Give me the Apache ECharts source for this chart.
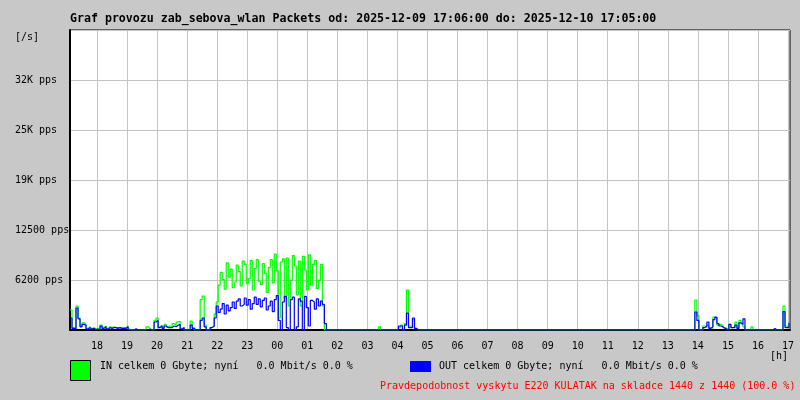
<!DOCTYPE html>
<html><head><meta charset="utf-8">
<script src="https://cdn.jsdelivr.net/npm/echarts@6/dist/echarts.min.js"></script>
<style>html,body{margin:0;padding:0;background:#c8c8c8}#c{width:800px;height:400px}</style>
</head><body><div id="c"></div>
<script>
// Each sample = one 4-minute step (2 px column pair), starting 17:06
const inPackets = [
2500,300,200,3000,1500,500,900,700,200,400,
150,300,100,200,100,600,300,500,200,400,
300,400,300,300,300,200,300,300,500,100,
0,0,0,0,0,0,0,0,400,200,
0,0,1200,1500,400,600,300,700,400,500,
400,800,600,1000,1100,200,300,0,0,0,
1100,300,0,0,0,3800,4250,600,0,0,
300,500,2000,3500,5600,7200,6300,5100,8400,6600,
7600,5300,6000,8100,7300,5500,8600,8200,5800,6400,
8700,5000,7700,8800,6100,5700,8300,7100,4700,7800,
8800,5900,9500,7400,1500,8500,8900,4000,9000,3000,
6200,9300,8000,4400,8600,3000,9200,7500,5000,9400,
5600,8200,8700,5200,6200,8200,3000,0,0,0,
0,0,0,0,0,0,0,0,0,0,
0,0,0,0,0,0,0,0,0,0,
0,0,0,0,400,0,0,0,0,0,
0,0,0,0,300,600,0,800,5000,500,
300,1300,200,0,0,0,0,0,0,0,
0,0,0,0,0,0,0,0,0,0,
0,0,0,0,0,0,0,0,0,0,
0,0,0,0,0,0,0,0,0,0,
0,0,0,0,0,0,0,0,0,0,
0,0,0,0,0,0,0,0,0,0,
0,0,0,0,0,0,0,0,0,0,
0,0,0,0,0,0,0,0,0,0,
0,0,0,0,0,0,0,0,0,0,
0,0,0,0,0,0,0,0,0,0,
0,0,0,0,0,0,0,0,0,0,
0,0,0,0,0,0,0,0,0,0,
0,0,0,0,0,0,0,0,0,0,
0,0,0,0,0,0,0,0,0,0,
0,0,3750,1800,0,0,500,300,600,300,
200,1600,1500,600,700,600,300,200,0,700,
300,400,1000,300,1200,800,400,0,0,0,
400,0,0,0,0,0,0,0,0,0,
0,0,0,0,0,0,3000,500,300,800
];
const outPackets = [
1500,200,100,2750,1400,400,700,600,100,300,
100,200,50,100,0,500,200,400,100,300,
200,300,300,200,300,200,200,200,400,0,
0,0,150,0,0,0,0,0,0,100,
0,0,1000,1200,300,500,200,500,300,300,
300,500,400,600,700,100,300,0,0,0,
600,200,0,0,0,1200,1500,400,0,0,
300,500,1500,3000,2200,2600,3300,2000,3100,2400,
2800,3500,2700,3600,3900,3000,3200,4000,3100,3800,
2600,3300,4100,3200,3900,2900,3700,4000,2500,3000,
3600,2300,3800,4300,1200,0,3500,4200,300,0,
3800,4100,0,400,3900,3600,0,4200,2800,500,
3700,3500,2600,3900,3000,3600,3200,800,0,0,
0,0,0,0,0,0,0,0,0,0,
0,0,0,0,0,0,0,0,0,0,
0,0,0,0,0,0,0,0,0,0,
0,0,0,0,500,500,0,600,2100,300,
300,1500,200,0,0,0,0,0,0,0,
0,0,0,0,0,0,0,0,0,0,
0,0,0,0,0,0,0,0,0,0,
0,0,0,0,0,0,0,0,0,0,
0,0,0,0,0,0,0,0,0,0,
0,0,0,0,0,0,0,0,0,0,
0,0,0,0,0,0,0,0,0,0,
0,0,0,0,0,0,0,0,0,0,
0,0,0,0,0,0,0,0,0,0,
0,0,0,0,0,0,0,0,0,0,
0,0,0,0,0,0,0,0,0,0,
0,0,0,0,0,0,0,0,0,0,
0,0,0,0,0,0,0,0,0,0,
0,0,0,0,0,0,0,0,0,0,
0,0,2250,1200,0,0,300,500,1000,200,
400,1300,1600,800,500,400,200,100,0,700,
300,300,600,200,900,700,1400,0,0,0,
0,0,0,0,0,0,0,0,0,0,
0,200,0,0,0,0,2300,300,300,900
];
const hourLabels = ['18','19','20','21','22','23','00','01','02','03','04','05','06','07','08','09','10','11','12','13','14','15','16','17'];
const yTickLabels = ['', '6200 pps', '12500 pps', '19K pps', '25K pps', '32K pps', ''];
const titleText = 'Graf provozu zab_sebova_wlan Packets od: 2025-12-09 17:06:00 do: 2025-12-10 17:05:00';
const inLegend = 'IN celkem 0 Gbyte; nyní   0.0 Mbit/s 0.0 %';
const outLegend = 'OUT celkem 0 Gbyte; nyní   0.0 Mbit/s 0.0 %';
const noteText = 'Pravdepodobnost vyskytu E220 KULATAK na skladce 1440 z 1440 (100.0 %)';

// 720 two-minute columns from 17:06; first full hour (18:00) is column 27
const nCols = 720, firstHourCol = 27, colsPerHour = 30, colsPerSample = 2;
const cats = Array.from({length: nCols}, (_, k) => String(k));
const isHour = (k) => k >= firstHourCol && (k - firstHourCol) % colsPerHour === 0;
const mono = 'DejaVu Sans Mono';

const chart = echarts.init(document.getElementById('c'), null, {renderer: 'canvas'});
chart.setOption({
  animation: false,
  backgroundColor: '#c8c8c8',
  title: {
    text: titleText, left: 70, top: 13, padding: 0,
    textStyle: {fontFamily: mono, fontSize: 11.6, fontWeight: 'bold', color: '#000'}
  },
  grid: {show: true, left: 70, top: 30, width: 720, height: 300,
    backgroundColor: '#ffffff', borderColor: '#000', borderWidth: 1},
  xAxis: {
    type: 'category', data: cats, boundaryGap: false,
    axisLine: {lineStyle: {color: '#000', width: 2}},
    axisTick: {show: false},
    axisLabel: {
      interval: (k) => isHour(k),
      formatter: (v, k) => hourLabels[(k - firstHourCol) / colsPerHour],
      fontFamily: mono, fontSize: 10, color: '#000', margin: 11
    },
    splitLine: {show: true, interval: (k) => isHour(k), lineStyle: {color: '#c4c4c4', width: 1}}
  },
  yAxis: {
    type: 'value', min: 0, max: 37500, interval: 6250,
    axisLine: {show: true, lineStyle: {color: '#000', width: 2}},
    axisTick: {show: false},
    axisLabel: {
      align: 'left', margin: 55, fontFamily: mono, fontSize: 10, color: '#000',
      padding: [3, 0, 0, 0],
      formatter: (v) => yTickLabels[Math.round(v / 6250)]
    },
    splitLine: {show: true, lineStyle: {color: '#c4c4c4', width: 1}}
  },
  series: [
    {type: 'line', data: inPackets.map((v, i) => [i * colsPerSample, v]), step: 'end',
     showSymbol: false, lineStyle: {color: '#00ff00', width: 1.2}, itemStyle: {color: '#00ff00'}, z: 2},
    {type: 'line', data: outPackets.map((v, i) => [i * colsPerSample, v]), step: 'end',
     showSymbol: false, lineStyle: {color: '#0000ff', width: 1.2}, itemStyle: {color: '#0000ff'}, z: 3}
  ],
  graphic: [
    {type: 'text', left: 15, top: 32, style: {text: '[/s]', font: '10px "DejaVu Sans Mono"', fill: '#000'}},
    {type: 'text', left: 770, top: 351, style: {text: '[h]', font: '10px "DejaVu Sans Mono"', fill: '#000'}},
    {type: 'rect', shape: {x: 70.5, y: 360.5, width: 20, height: 20}, style: {fill: '#00ff00', stroke: '#000', lineWidth: 1}},
    {type: 'text', left: 100, top: 361, style: {text: inLegend, font: '10px "DejaVu Sans Mono"', fill: '#000'}},
    {type: 'rect', shape: {x: 410, y: 361, width: 21, height: 11}, style: {fill: '#0000ff'}},
    {type: 'text', left: 439, top: 361, style: {text: outLegend, font: '10px "DejaVu Sans Mono"', fill: '#000'}},
    {type: 'text', left: 380, top: 381, style: {text: noteText, font: '10px "DejaVu Sans Mono"', fill: '#ff0000'}}
  ]
});
</script>
</body></html>
